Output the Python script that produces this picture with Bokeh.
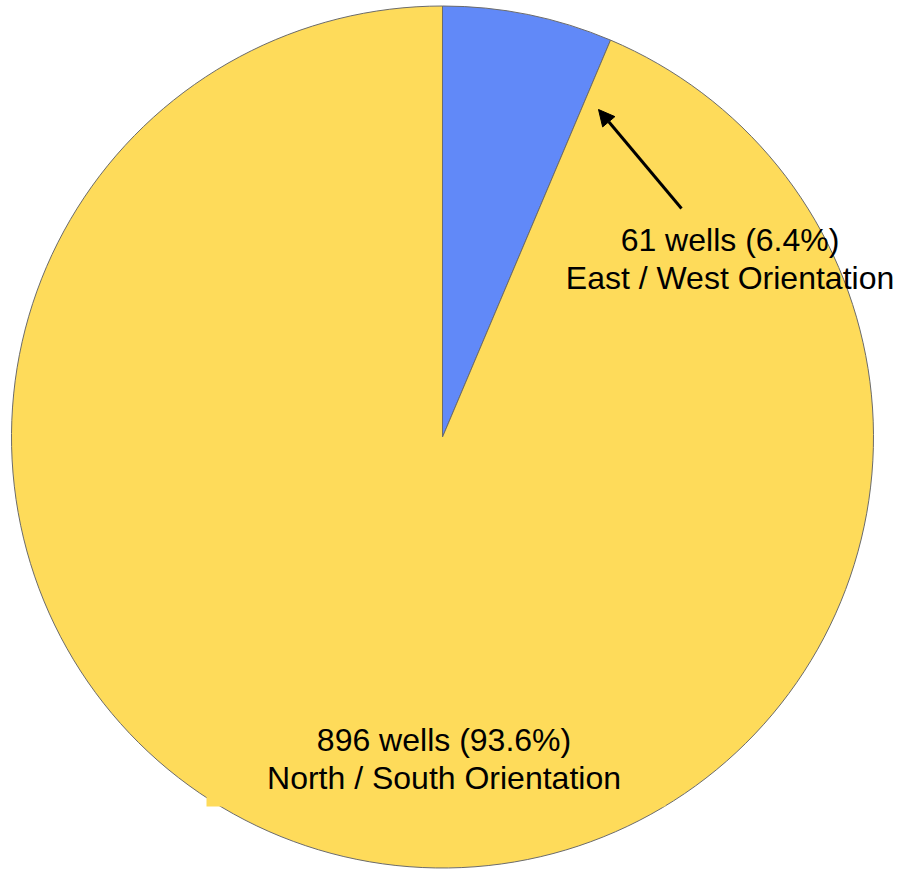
import math
from bokeh.plotting import figure
from bokeh.models import Range1d, Arrow, NormalHead, ColumnDataSource
from bokeh.core.properties import value
from bokeh.embed import file_html
from bokeh.resources import INLINE

# ---- data ----
categories = ["East / West Orientation", "North / South Orientation"]
wells = [61, 896]
colors = ["#6189F8", "#FEDB5A"]

total = sum(wells)
pcts = [w / total * 100 for w in wells]
line1 = [f"{w} wells ({p:.1f}%)" for w, p in zip(wells, pcts)]

# ---- layout (data units == pixels, y measured upward) ----
W, H = 898, 869
def py(img_y):         # image y -> data y
    return H - img_y

cx, cy_img = 442, 436.5
R = 431
cy = py(cy_img)

p = figure(width=W, height=H, output_backend="svg", toolbar_location=None,
           x_range=Range1d(0, W), y_range=Range1d(0, H),
           min_border=0)
p.axis.visible = False
p.grid.visible = False
p.outline_line_color = None
p.background_fill_color = "white"

# wedges: blue slice ends at 12 o'clock, yellow continues clockwise
frac0 = 2 * math.pi * wells[0] / total
starts = [math.pi / 2 - frac0, math.pi / 2]
ends = [math.pi / 2, math.pi / 2 + 2 * math.pi * wells[1] / total]

src = ColumnDataSource(dict(x=[cx, cx], y=[cy, cy], start=starts, end=ends, color=colors))
p.wedge(x="x", y="y", radius=R, start_angle="start", end_angle="end",
        fill_color="color", line_color="#6b6b6b", line_width=1, source=src)

# background box behind lower label
p.quad(left=[206], right=[665], bottom=[py(806)], top=[py(715)],
       fill_color=colors[1], line_color=None)

font = value("Liberation Sans")
fs = "32px"

# lower label (North / South)
p.text(x=[443.5], y=[py(739)], text=[line1[1]], text_font=font, text_font_size=fs,
       text_align="center", text_baseline="middle", text_color="black")
p.text(x=[443.5], y=[py(777)], text=[categories[1]], text_font=font, text_font_size=fs,
       text_align="center", text_baseline="middle", text_color="black")

# upper label (East / West)
p.text(x=[729.5], y=[py(239)], text=[line1[0]], text_font=font, text_font_size=fs,
       text_align="center", text_baseline="middle", text_color="black")
p.text(x=[729.5], y=[py(277)], text=[categories[0]], text_font=font, text_font_size=fs,
       text_align="center", text_baseline="middle", text_color="black")

# arrow
p.add_layout(Arrow(x_start=681, y_start=py(208), x_end=598, y_end=py(109),
                   line_width=3, line_color="black",
                   end=NormalHead(size=16, fill_color="black", line_color="black")))

open("out.html", "w").write(file_html(p, INLINE))
